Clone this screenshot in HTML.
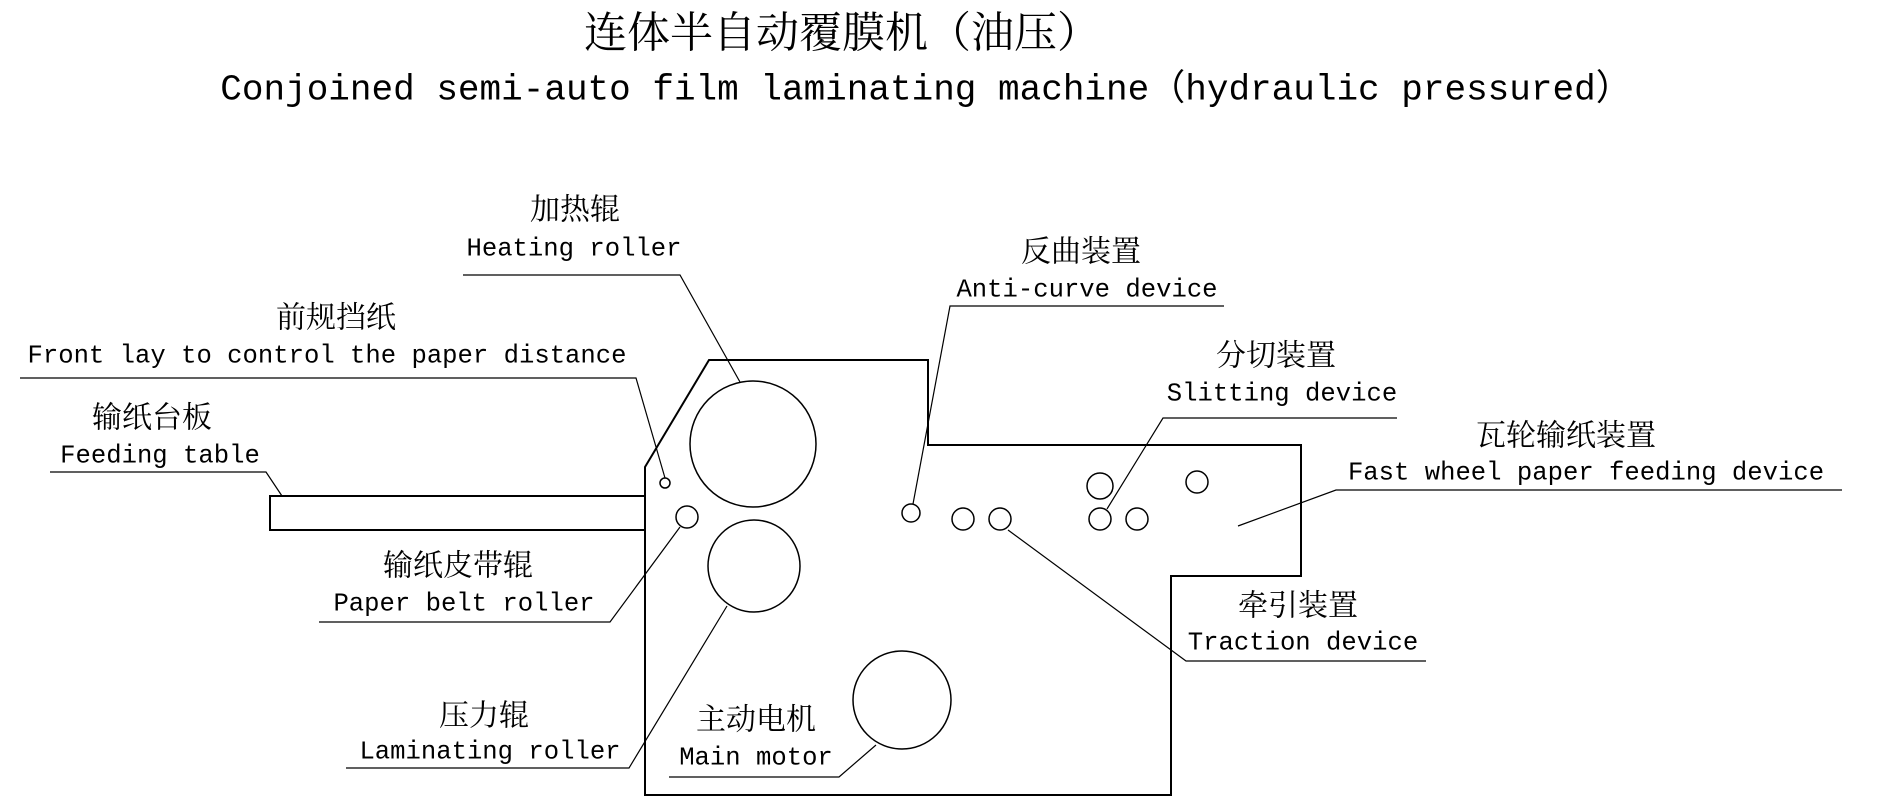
<!DOCTYPE html>
<html><head><meta charset="utf-8"><style>
html,body{margin:0;padding:0;background:#fff;}
svg{display:block}
.cn{font-family:"Liberation Serif","Noto Serif CJK SC","Noto Sans CJK SC",serif;font-size:30px;}
.en{font-family:"Liberation Mono",monospace;font-size:25.6px;}
</style></head><body>
<svg width="1886" height="804" viewBox="0 0 1886 804" xmlns="http://www.w3.org/2000/svg">
<g fill="none" stroke="#000" stroke-width="2">
<path d="M645,795 L645,467 L709,360 L928,360 L928,445 L1301,445 L1301,576 L1171,576 L1171,795 Z"/>
<path d="M645,496 L270,496 L270,530 L645,530"/>
</g>
<g fill="none" stroke="#000" stroke-width="1.5">
<circle cx="753" cy="444" r="63"/>
<circle cx="754" cy="566" r="46"/>
<circle cx="902" cy="700" r="49"/>
<circle cx="665" cy="483" r="5"/>
<circle cx="687" cy="517" r="11"/>
<circle cx="911" cy="513" r="9"/>
<circle cx="963" cy="519" r="11"/>
<circle cx="1000" cy="519" r="11"/>
<circle cx="1100" cy="519" r="11"/>
<circle cx="1137" cy="519" r="11"/>
<circle cx="1100" cy="486" r="13"/>
<circle cx="1197" cy="482" r="11"/>
</g>
<g fill="none" stroke="#000" stroke-width="1.2">
<polyline points="463,275 680,275 740,382"/>
<polyline points="1224,306 950,306 913,504"/>
<polyline points="20,378 636,378 665,478"/>
<polyline points="1397,418 1163,418 1107,509"/>
<polyline points="1842,490 1336,490 1238,526"/>
<polyline points="50,472 266,472 282,496"/>
<polyline points="319,622 610,622 680,527"/>
<polyline points="1426,661 1186,661 1008,530"/>
<polyline points="346,768 629,768 727,606"/>
<polyline points="669,777 839,777 876,745"/>
</g>
<g text-anchor="middle" dominant-baseline="central" fill="#000">
<text class="cn" x="842" y="34" style="font-size:43px">连体半自动覆膜机（油压）</text>
<text x="926" y="90" style="font-family:'Liberation Mono',monospace;font-size:36px">Conjoined semi-auto film laminating machine（hydraulic pressured）</text>
<text class="cn" x="575" y="210">加热辊</text>
<text class="en" x="574" y="249">Heating roller</text>
<text class="cn" x="1081" y="252">反曲装置</text>
<text class="en" x="1087" y="290">Anti-curve device</text>
<text class="cn" x="336" y="318">前规挡纸</text>
<text class="en" x="327" y="356">Front lay to control the paper distance</text>
<text class="cn" x="1276" y="356">分切装置</text>
<text class="en" x="1282" y="394">Slitting device</text>
<text class="cn" x="1566" y="436">瓦轮输纸装置</text>
<text class="en" x="1586" y="473">Fast wheel paper feeding device</text>
<text class="cn" x="152" y="418">输纸台板</text>
<text class="en" x="160" y="456">Feeding table</text>
<text class="cn" x="458" y="566">输纸皮带辊</text>
<text class="en" x="464" y="604">Paper belt roller</text>
<text class="cn" x="1298" y="606">牵引装置</text>
<text class="en" x="1303" y="643">Traction device</text>
<text class="cn" x="484" y="716">压力辊</text>
<text class="en" x="490" y="752">Laminating roller</text>
<text class="cn" x="756" y="720">主动电机</text>
<text class="en" x="756" y="758">Main motor</text>
</g>
</svg>
</body></html>
